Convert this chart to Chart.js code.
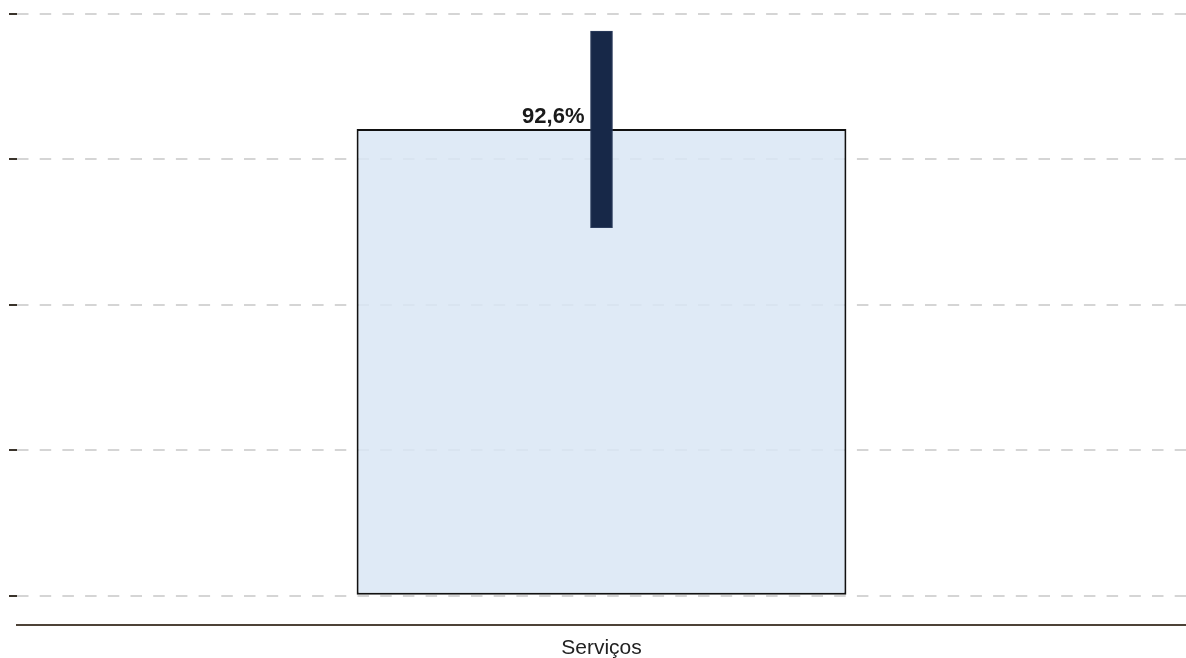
<!DOCTYPE html>
<html lang="pt-BR">
<head>
<meta charset="UTF-8">
<title>Serviços</title>
<script src="https://cdn.jsdelivr.net/npm/chart.js@4/dist/chart.umd.min.js"></script>
<style>
    html, body { margin: 0; padding: 0; background: #ffffff; overflow: hidden; }
    #contenedor { width: 1186px; height: 672px; position: relative; }
</style>
</head>
<body>
<div id="contenedor">
    <canvas id="graficoServicos"></canvas>
</div>
<script>
/* -----------------------------
   DATOS
----------------------------- */
const categorias = ["Serviços"];
const valores = [92.6];
const intervalos = [[73.0, 112.0]];
const ticksY = [0, 28.85, 57.7, 86.55, 115.4];
const minY = -5.75;
const maxY = 115.4;

function formatoPorcentaje(valor) {
    return valor.toLocaleString("pt-BR", { minimumFractionDigits: 1, maximumFractionDigits: 1 }) + "%";
}

/* -----------------------------
   ETIQUETA DEL VALOR
----------------------------- */
const etiquetaValor = {
    id: "etiquetaValor",
    afterDatasetsDraw(chart) {
        const ctx = chart.ctx;
        const barras = chart.getDatasetMeta(1).data;
        const errores = chart.getDatasetMeta(0).data;
        barras.forEach((barra, i) => {
            const error = errores[i];
            const xDerecha = error.x - error.width / 2 - 6;
            ctx.save();
            ctx.font = "bold 22px 'Liberation Sans', Arial, sans-serif";
            ctx.fillStyle = "#1a1a1a";
            ctx.textAlign = "right";
            ctx.textBaseline = "alphabetic";
            ctx.fillText(formatoPorcentaje(valores[i]), xDerecha, barra.y - 6);
            ctx.restore();
        });
    }
};

/* -----------------------------
   GRAFICA
----------------------------- */
Chart.defaults.font.family = "'Liberation Sans', Arial, sans-serif";

const ctx = document.getElementById("graficoServicos");

new Chart(ctx, {
    type: "bar",
    data: {
        labels: categorias,
        datasets: [
            {
                label: "Intervalo",
                data: intervalos,
                backgroundColor: "#172848",
                borderColor: "#2c3d5e",
                borderWidth: 1,
                borderSkipped: false,
                barThickness: 22,
                grouped: false
            },
            {
                label: "Serviços",
                data: valores,
                backgroundColor: "rgba(217, 230, 244, 0.85)",
                borderColor: "#111111",
                borderWidth: 2,
                borderSkipped: false,
                barPercentage: 0.419,
                categoryPercentage: 1,
                grouped: false
            }
        ]
    },
    options: {
        responsive: true,
        maintainAspectRatio: false,
        animation: false,
        layout: {
            padding: { top: 14, left: 9, right: 0, bottom: 0 }
        },
        plugins: {
            legend: { display: false },
            tooltip: { enabled: false }
        },
        scales: {
            x: {
                grid: { display: false, drawTicks: false },
                border: { display: true, color: "#4d4338", width: 2 },
                ticks: {
                    color: "#222222",
                    font: { size: 21 },
                    padding: 11
                }
            },
            y: {
                min: minY,
                max: maxY,
                afterBuildTicks: (escala) => {
                    escala.ticks = ticksY.map(v => ({ value: v }));
                },
                border: { display: false, dash: [11.5, 11.2] },
                grid: {
                    color: "#d5d5d5",
                    lineWidth: 2,
                    drawTicks: true,
                    tickLength: 8,
                    tickColor: "#3a332b",
                    tickBorderDash: [],
                    tickWidth: 2
                },
                ticks: { display: false }
            }
        }
    },
    plugins: [etiquetaValor]
});
</script>
</body>
</html>
